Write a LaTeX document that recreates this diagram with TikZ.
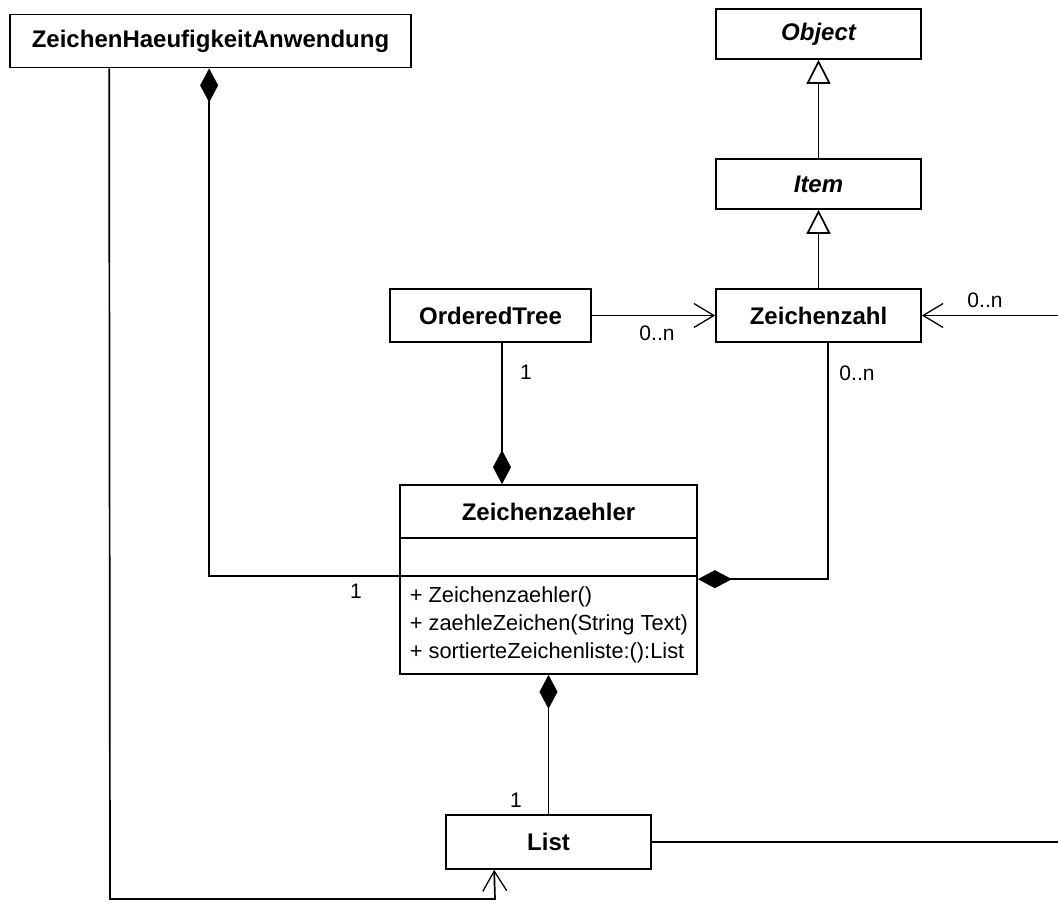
\documentclass[tikz,border=0pt]{standalone}
\usepackage{fontspec}
\setmainfont{Liberation Sans}
\usetikzlibrary{arrows.meta,calc}
\begin{document}
\begin{tikzpicture}[x=1pt,y=-1pt,
  line width=1.7pt,
  cls/.style={draw, fill=white, inner sep=0pt, font=\fontsize{24}{28}\selectfont\bfseries},
  lbl/.style={inner sep=0pt, font=\fontsize{21}{25}\selectfont},
  meth/.style={inner sep=0pt, anchor=west, font=\fontsize{21.8}{25}\selectfont},
  compo/.tip={Diamond[length=34pt 0, width=18pt 0]},
  gen/.tip={Triangle[open, fill=white, length=24pt 0, width=24pt 0]},
  nav/.tip={Straight Barb[length=20pt 0, width=24pt 0, line width=1.3pt]}
]
\useasboundingbox (0,0) rectangle (1058,903);
\fill[white] (0,0) rectangle (1058,903);

% classes
\node[cls, minimum width=401pt, minimum height=53pt] (zha) at (210.5,41) {ZeichenHaeufigkeitAnwendung};
\node[cls, minimum width=205pt, minimum height=50pt, font=\fontsize{24}{28}\selectfont\bfseries\itshape] (obj) at (818.5,34) {Object};
\node[cls, minimum width=205pt, minimum height=50pt, font=\fontsize{24}{28}\selectfont\bfseries\itshape] (item) at (818.5,184) {Item};
\node[cls, minimum width=205pt, minimum height=53pt] (zzahl) at (818.5,315.5) {Zeichenzahl};
\node[cls, minimum width=201pt, minimum height=53pt] (ot) at (490.5,315.5) {OrderedTree};
\node[cls, minimum width=297pt, minimum height=189pt] (zz) at (548.5,579.5) {};
\node[cls, draw=none, fill=none] (zzt) at (548.5,512) {Zeichenzaehler};
\draw ([yshift=-54pt]zz.north west) -- ([yshift=-54pt]zz.north east);
\draw ([yshift=-92pt]zz.north west) -- ([yshift=-92pt]zz.north east);
\node[meth] (m1) at (409,597) {+ Zeichenzaehler()};
\node[meth] (m2) at (409,625) {+ zaehleZeichen(String Text)};
\node[meth] (m3) at (409,653) {+ sortierteZeichenliste:():List};
\node[cls, minimum width=205pt, minimum height=54pt] (list) at (548.5,842) {List};

% free ends at the right border
\coordinate (r1) at (1058,315.5);
\coordinate (r2) at (1058,842);
\coordinate (b1) at (110,899);
\coordinate (b2) at (495,899);

% generalizations
\draw[-gen] (item.north) -- (obj.south);
\draw[-gen] (zzahl.north) -- (item.south);

% navigable associations
\draw[-nav] (ot.east) -- (zzahl.west);
\draw[-nav] (r1) -- (zzahl.east);
\draw[-nav] ([xshift=100pt]zha.south west) -- (b1) -- (b2) -- ([xshift=49pt]list.south west);
\draw (list.east) -- (r2);

% compositions
\draw[compo-] ([xshift=200pt]zha.south west) |- ([yshift=-92pt]zz.north west);
\draw[-compo] ([xshift=11.5pt]ot.south) -- ([xshift=11.5pt]ot.south |- zz.north);
\draw[compo-] (zz.south) -- (list.north);
\draw[compo-] ([yshift=-95pt]zz.north east) -| ([xshift=9.5pt]zzahl.south);

% multiplicities
\node[lbl] (l1) at (657,333) {0..n};
\node[lbl] (l2) at (985,300) {0..n};
\node[lbl] (l3) at (526,372) {1};
\node[lbl] (l4) at (857,373) {0..n};
\node[lbl] (l5) at (356,591) {1};
\node[lbl] (l6) at (516,800) {1};
\end{tikzpicture}
\end{document}
